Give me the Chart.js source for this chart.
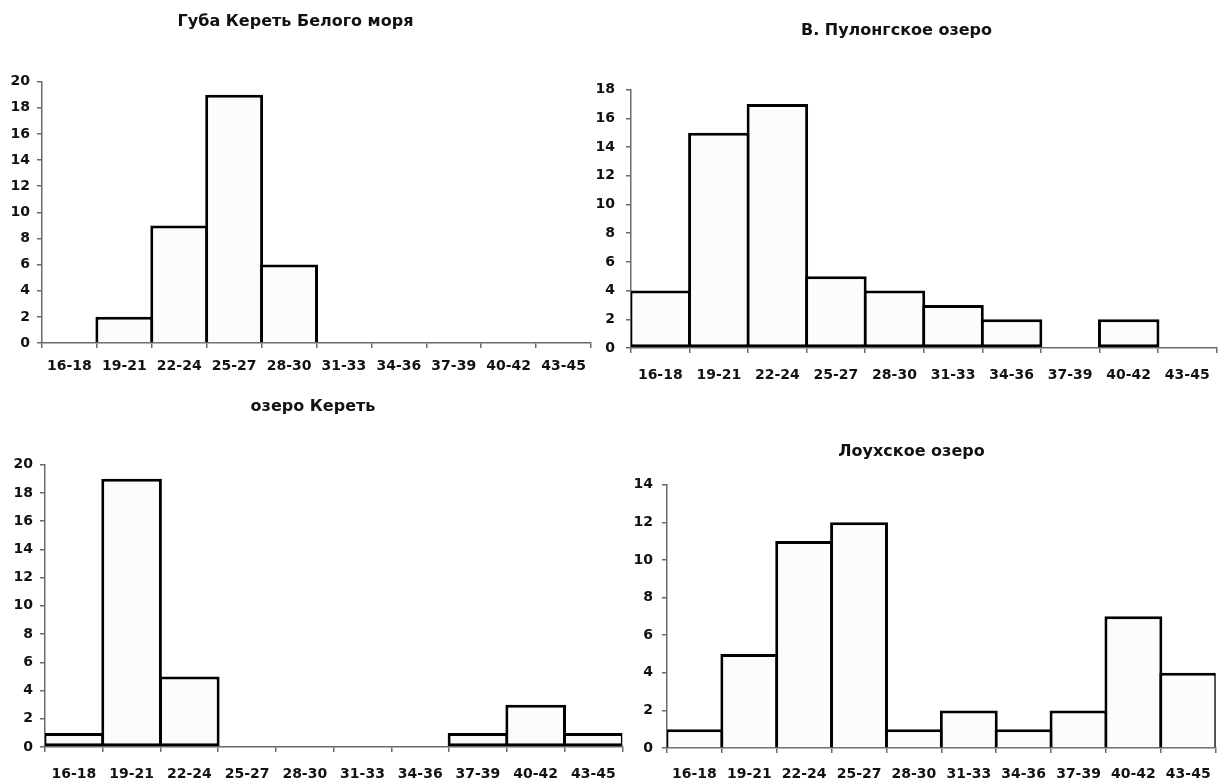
<!DOCTYPE html>
<html>
<head>
<meta charset="utf-8">
<script src="https://cdn.jsdelivr.net/npm/chart.js@4.4.1/dist/chart.umd.min.js"></script>
<style>
  html, body { margin: 0; padding: 0; background: #ffffff; }
  body { width: 1224px; height: 783px; position: relative; overflow: hidden; }
  .box { position: absolute; }
</style>
</head>
<body>
<div class="box" style="left:0px;top:0px;width:600px;height:392px"><canvas id="c1" width="600" height="392"></canvas></div>
<div class="box" style="left:576px;top:0px;width:648px;height:392px"><canvas id="c2" width="648" height="392"></canvas></div>
<div class="box" style="left:0px;top:392px;width:630px;height:391px"><canvas id="c3" width="630" height="391"></canvas></div>
<div class="box" style="left:606px;top:392px;width:618px;height:391px"><canvas id="c4" width="618" height="391"></canvas></div>
<script>
// ---- data ----
const sizeClasses = ["16-18", "19-21", "22-24", "25-27", "28-30", "31-33", "34-36", "37-39", "40-42", "43-45"];

const titleGuba = "Губа Кереть Белого моря";
const valuesGuba = [0, 2, 9, 19, 6, 0, 0, 0, 0, 0];

const titlePulonga = "В. Пулонгское озеро";
const valuesPulonga = [4, 15, 17, 5, 4, 3, 2, 0, 2, 0];

const titleKeret = "озеро Кереть";
const valuesKeret = [1, 19, 5, 0, 0, 0, 0, 1, 3, 1];

const titleLoukh = "Лоухское озеро";
const valuesLoukh = [1, 5, 11, 12, 1, 2, 1, 2, 7, 4];

const yMaxGuba = 20, yMaxPulonga = 18, yMaxKeret = 20, yMaxLoukh = 14;
const yStep = 2;

// ---- drawing ----
Chart.defaults.font.family = "'DejaVu Sans', 'Liberation Sans', Arial, sans-serif";
Chart.defaults.color = '#111';

function makeChart(id, title, values, yMax, L) {
  const ctx = document.getElementById(id);
  return new Chart(ctx, {
    type: 'bar',
    data: {
      labels: sizeClasses,
      datasets: [{
        data: values,
        backgroundColor: '#fcfcfc',
        borderColor: '#000000',
        borderWidth: 3,
        borderSkipped: L.skip,
        categoryPercentage: 1.0,
        barPercentage: L.barPct
      }]
    },
    options: {
      responsive: false,
      devicePixelRatio: 1,
      animation: false,
      events: [],
      layout: { padding: { left: 0, right: L.padRight, top: 0, bottom: L.padBottom } },
      plugins: {
        legend: { display: false },
        tooltip: { enabled: false },
        title: {
          display: true,
          text: title,
          color: '#111',
          font: { size: 16, weight: 'bold' },
          padding: { top: L.titleTop, bottom: L.titleBottom }
        }
      },
      scales: {
        x: {
          offset: true,
          grid: { display: true, offset: true, drawOnChartArea: false, drawTicks: true, tickLength: 5, color: '#6a6a6a', lineWidth: 1.5 },
          border: { display: true, color: '#6a6a6a', width: 1.5 },
          ticks: { font: { size: 14, weight: 'bold' }, color: '#111', padding: L.xPad, maxRotation: 0, autoSkip: false },
          afterFit: (s) => { s.height = L.xH; }
        },
        y: {
          min: 0, max: yMax,
          grid: { display: true, drawOnChartArea: false, drawTicks: true, tickLength: 5, color: '#6a6a6a', lineWidth: 1.5 },
          border: { display: true, color: '#6a6a6a', width: 1.5 },
          ticks: { stepSize: yStep, font: { size: 14, weight: 'bold' }, color: '#111', padding: L.yPad },
          afterFit: (s) => { s.width = L.yW; }
        }
      }
    }
  });
}

makeChart('c1', titleGuba, valuesGuba, yMaxGuba,
  { padRight: 9, padBottom: 9, titleTop: 12, titleBottom: 50.5, xH: 40, xPad: 10, yW: 42, yPad: 7, barPct: 1.055, skip: 'start' });
makeChart('c2', titlePulonga, valuesPulonga, yMaxPulonga,
  { padRight: 7, padBottom: 4, titleTop: 21, titleBottom: 49.5, xH: 40, xPad: 14, yW: 55, yPad: 11, barPct: 1.05, skip: false });
makeChart('c3', titleKeret, valuesKeret, yMaxKeret,
  { padRight: 4, padBottom: 0, titleTop: 5, titleBottom: 48.5, xH: 36, xPad: 14, yW: 45, yPad: 7, barPct: 1.05, skip: false });
makeChart('c4', titleLoukh, valuesLoukh, yMaxLoukh,
  { padRight: 7, padBottom: 0, titleTop: 50, titleBottom: 23.5, xH: 35, xPad: 13, yW: 61, yPad: 9, barPct: 1.055, skip: 'start' });
</script>
</body>
</html>
